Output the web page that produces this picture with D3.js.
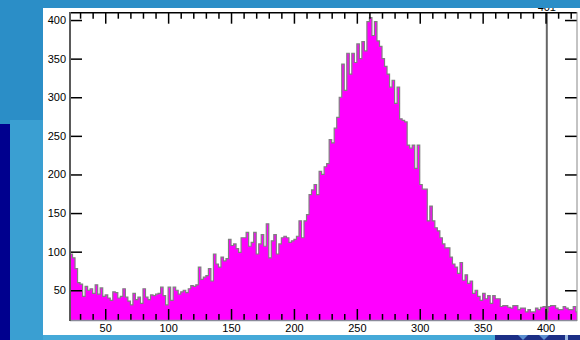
<!DOCTYPE html>
<html>
<head>
<meta charset="utf-8">
<script src="https://cdn.jsdelivr.net/npm/d3@7"></script>
<style>
  body { margin: 0; background: #2b8ec7; }
  svg { display: block; }
</style>
</head>
<body>
<svg id="chart"></svg>
<script>
let width = 580;
let height = 340;

// histogram: 2-unit bins starting at 22
let binStart = 22;
let binWidth = 2;
let counts = [
  97, 92, 78, 60, 58, 42, 55, 50, 52, 46, 57, 45, 53, 42, 44, 40, 37, 48, 47, 40,
  42, 52, 41, 36, 31, 46, 38, 41, 33, 52, 41, 38, 44, 43, 45, 46, 54, 43, 31, 54,
  37, 54, 50, 45, 48, 50, 47, 52, 56, 55, 57, 80, 64, 67, 69, 78, 62, 97, 84, 80,
  93, 88, 91, 116, 108, 110, 104, 99, 118, 118, 125, 107, 112, 125, 97, 110, 122, 107, 136, 92,
  114, 122, 97, 110, 118, 120, 118, 112, 114, 116, 120, 140, 118, 140, 148, 174, 180, 187, 174, 204,
  200, 210, 214, 245, 241, 260, 274, 300, 343, 309, 357, 330, 357, 345, 369, 350, 372, 360, 398, 403,
  380, 398, 373, 366, 350, 340, 330, 313, 322, 292, 313, 272, 270, 268, 238, 234, 238, 208, 238, 187,
  181, 181, 140, 159, 140, 131, 127, 118, 110, 105, 105, 93, 84, 80, 72, 86, 63, 70, 59, 62,
  46, 50, 42, 37, 46, 39, 43, 33, 43, 39, 39, 29, 30, 30, 28, 27, 30, 30, 25, 27,
  27, 22, 25, 22, 22, 27, 25, 28, 29, 22, 29, 30, 30, 27, 25, 25, 29, 27, 25, 25,
  29, 22
];
let xMajor = [50, 100, 150, 200, 250, 300, 350, 400];
let xMinor = [30, 40, 60, 70, 80, 90, 110, 120, 130, 140, 160, 170, 180, 190, 210, 220, 230, 240,
  260, 270, 280, 290, 310, 320, 330, 340, 360, 370, 380, 390, 410, 420];
let yMajor = [50, 100, 150, 200, 250, 300, 350, 400];
let cursorValue = 401;

let svg = d3.select('#chart')
  .attr('width', width)
  .attr('height', height);

// background pieces
svg.append('rect').attr('x', 0).attr('y', 0).attr('width', width).attr('height', height).attr('fill', '#2b8ec7');
svg.append('rect').attr('x', 10).attr('y', 120).attr('width', 33).attr('height', 220).attr('fill', '#3a9fd2');
svg.append('rect').attr('x', 0).attr('y', 124).attr('width', 10).attr('height', 216).attr('fill', '#00008e');
svg.append('rect').attr('x', 43).attr('y', 335).attr('width', 452).attr('height', 5).attr('fill', '#45a9d8');
svg.append('rect').attr('x', 495).attr('y', 335).attr('width', 85).attr('height', 5).attr('fill', '#1c2f86');
svg.append('path').attr('d', 'M518,335 L523,340 L528,335 Z').attr('fill', '#5a8fd0');
svg.append('path').attr('d', 'M539,335 L544,340 L549,335 Z').attr('fill', '#5a8fd0');
svg.append('rect').attr('x', 565).attr('y', 335).attr('width', 3).attr('height', 5).attr('fill', '#9ab8e0');

// white panel
svg.append('rect').attr('x', 43).attr('y', 8).attr('width', 537).attr('height', 327).attr('fill', '#ffffff');

let x = d3.scaleLinear().domain([22, 425]).range([70, 577]);
let y = d3.scaleLinear().domain([11.5, 409.5]).range([320, 12.7]).clamp(true);

svg.append('clipPath').attr('id', 'plotclip')
  .append('rect').attr('x', 70).attr('y', 12.7).attr('width', 507).attr('height', 307.3);

let bins = counts.map((c, i) => ({ lo: binStart + i * binWidth, c: c }));
let stepData = bins.concat([{ lo: binStart + counts.length * binWidth, c: counts[counts.length - 1] }]);

let area = d3.area()
  .x(d => x(d.lo))
  .y0(320)
  .y1(d => y(d.c))
  .curve(d3.curveStepAfter);

let line = d3.line()
  .x(d => x(d.lo))
  .y(d => y(d.c))
  .curve(d3.curveStepAfter);

let hist = svg.append('g').attr('clip-path', 'url(#plotclip)');
hist.append('path')
  .datum(stepData)
  .attr('d', area)
  .attr('fill', '#ff00ff');
hist.append('path')
  .datum(stepData)
  .attr('d', line)
  .attr('fill', 'none')
  .attr('stroke', '#808080')
  .attr('stroke-width', 1.2);

// cursor line + label (label partly hidden by the top band)
svg.append('text')
  .attr('x', x(cursorValue))
  .attr('y', 11)
  .attr('text-anchor', 'middle')
  .style('font-family', 'Liberation Sans, Arial, sans-serif')
  .style('font-size', '11px')
  .text(cursorValue);
svg.append('rect').attr('x', 43).attr('y', 0).attr('width', 537).attr('height', 8).attr('fill', '#2b8ec7');
svg.append('line')
  .attr('x1', x(cursorValue)).attr('x2', x(cursorValue))
  .attr('y1', 12.7).attr('y2', 320)
  .attr('stroke', '#666666')
  .attr('stroke-width', 2);

// axes
let font = 'Liberation Sans, Arial, sans-serif';

function styleAxis(g) {
  g.select('.domain').remove();
  g.selectAll('.tick line').attr('stroke', '#000').attr('stroke-width', 1.5);
  g.selectAll('.tick text').style('font-family', font).style('font-size', '11px').attr('fill', '#000');
}

// bottom
svg.append('g')
  .attr('transform', 'translate(0,320)')
  .call(d3.axisBottom(x).tickValues(xMajor).tickSize(-11).tickPadding(4).tickFormat(d3.format('d')))
  .call(styleAxis);
svg.append('g')
  .attr('transform', 'translate(0,320)')
  .call(d3.axisBottom(x).tickValues(xMinor).tickSize(-6).tickFormat(''))
  .call(styleAxis);

// top
svg.append('g')
  .attr('transform', 'translate(0,12.7)')
  .call(d3.axisTop(x).tickValues(xMajor).tickSize(-11).tickFormat(''))
  .call(styleAxis);
svg.append('g')
  .attr('transform', 'translate(0,12.7)')
  .call(d3.axisTop(x).tickValues(xMinor).tickSize(-6).tickFormat(''))
  .call(styleAxis);

// left
svg.append('g')
  .attr('transform', 'translate(70,0)')
  .call(d3.axisLeft(y).tickValues(yMajor).tickSize(-12).tickPadding(4).tickFormat(d3.format('d')))
  .call(styleAxis);

// right
svg.append('g')
  .attr('transform', 'translate(577,0)')
  .call(d3.axisRight(y).tickValues(yMajor).tickSize(-12).tickFormat(''))
  .call(styleAxis);

// frame lines
svg.append('line').attr('x1', 70).attr('x2', 577).attr('y1', 12.7).attr('y2', 12.7).attr('stroke', '#000').attr('stroke-width', 1.5);
svg.append('line').attr('x1', 70).attr('x2', 577).attr('y1', 320.5).attr('y2', 320.5).attr('stroke', '#8a8a9a').attr('stroke-width', 1.5);
svg.append('line').attr('x1', 70).attr('x2', 70).attr('y1', 12).attr('y2', 321).attr('stroke', '#5a5a5a').attr('stroke-width', 2);
svg.append('line').attr('x1', 577).attr('x2', 577).attr('y1', 12).attr('y2', 321).attr('stroke', '#888').attr('stroke-width', 1);
</script>
</body>
</html>
